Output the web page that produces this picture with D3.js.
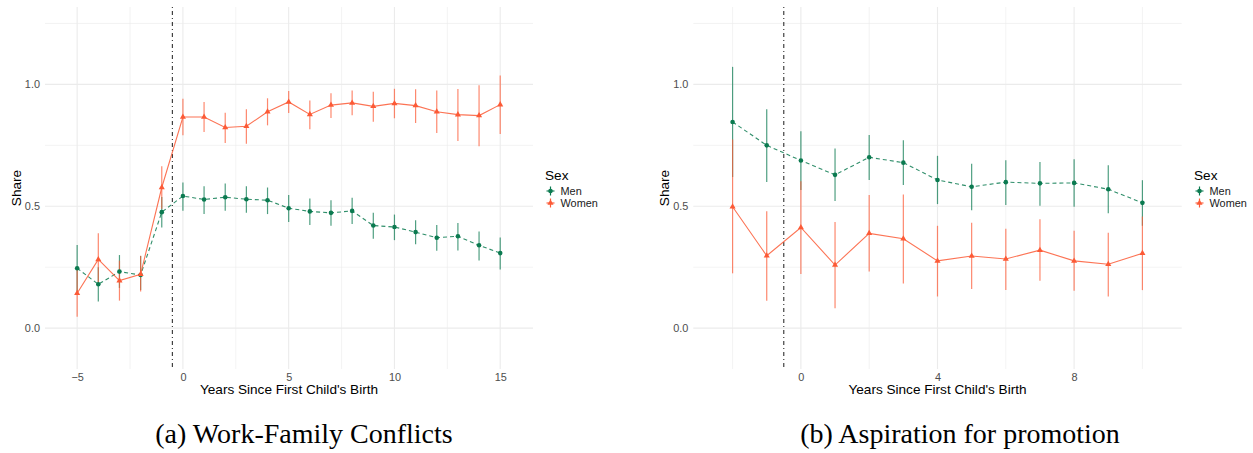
<!DOCTYPE html>
<html>
<head>
<meta charset="utf-8">
<script src="https://cdn.jsdelivr.net/npm/d3@7"></script>
<style>
  html, body { margin: 0; padding: 0; background: #fff; }
  svg { display: block; }
</style>
</head>
<body>
<svg id="chart" width="1253" height="453" style="font-family: 'Liberation Sans', Arial, sans-serif;"></svg>
<script>
// ---------- Data ----------
const seriesNames = ["Men", "Women"];

// Panel (a) Work-Family Conflicts
const yearsA = [-5,-4,-3,-2,-1,0,1,2,3,4,5,6,7,8,9,10,11,12,13,14,15];
const menA    = [0.246,0.180,0.232,0.218,0.476,0.542,0.528,0.537,0.529,0.525,0.492,0.479,0.473,0.481,0.421,0.415,0.394,0.371,0.377,0.340,0.308];
const menALo  = [0.150,0.109,0.165,0.157,0.413,0.482,0.468,0.482,0.473,0.468,0.436,0.423,0.420,0.427,0.367,0.361,0.344,0.318,0.319,0.278,0.241];
const menAHi  = [0.341,0.250,0.300,0.296,0.538,0.598,0.582,0.593,0.582,0.577,0.546,0.532,0.525,0.535,0.473,0.466,0.443,0.423,0.431,0.397,0.372];
const womenA   = [0.143,0.282,0.195,0.221,0.577,0.866,0.866,0.823,0.828,0.888,0.928,0.877,0.915,0.924,0.910,0.922,0.913,0.888,0.876,0.872,0.917];
const womenALo = [0.047,0.175,0.113,0.150,0.490,0.791,0.805,0.760,0.757,0.832,0.883,0.816,0.862,0.873,0.847,0.861,0.842,0.801,0.768,0.746,0.797];
const womenAHi = [0.240,0.389,0.277,0.297,0.664,0.941,0.928,0.884,0.898,0.943,0.973,0.934,0.964,0.975,0.970,0.982,0.980,0.975,0.981,0.996,1.036];

// Panel (b) Aspiration for promotion
const yearsB = [-2,-1,0,1,2,3,4,5,6,7,8,9,10];
const menB    = [0.846,0.750,0.688,0.629,0.701,0.679,0.608,0.580,0.599,0.594,0.596,0.570,0.514];
const menBLo  = [0.620,0.600,0.567,0.522,0.608,0.587,0.509,0.484,0.505,0.502,0.498,0.471,0.420];
const menBHi  = [1.072,0.898,0.808,0.737,0.792,0.771,0.707,0.674,0.689,0.682,0.693,0.668,0.607];
const womenB   = [0.498,0.297,0.413,0.259,0.389,0.367,0.276,0.296,0.284,0.320,0.276,0.262,0.307];
const womenBLo = [0.225,0.112,0.222,0.082,0.232,0.183,0.130,0.161,0.157,0.195,0.154,0.130,0.156];
const womenBHi = [0.774,0.480,0.603,0.436,0.546,0.548,0.420,0.432,0.408,0.447,0.400,0.391,0.458];

// Tick values
const xMajorA = [-5,0,5,10,15];
const xMinorA = [-2.5,2.5,7.5,12.5];
const xMajorB = [0,4,8];
const xMinorB = [-2,2,6,10];
const yMajor = [0,0.5,1.0];
const yMinor = [0.25,0.75,1.25];
const eventLine = -0.5;

const captions = ["(a) Work-Family Conflicts", "(b) Aspiration for promotion"];
const xTitle = "Years Since First Child's Birth";
const yTitle = "Share";
const legendTitle = "Sex";

// ---------- Style ----------
const colors = { Men: "#0b7a50", Women: "#fc5a36" };
const SANS = "'Liberation Sans', Arial, sans-serif";
const SERIF = "'Liberation Serif', 'Times New Roman', serif";
const svg = d3.select("#chart");

function panel(cfg) {
  const g = svg.append("g");
  const x = d3.scaleLinear().domain(cfg.xDomain).range([cfg.left, cfg.right]);
  const y = d3.scaleLinear().domain([-0.1675, 1.3175]).range([369, 7]);

  // minor grid
  g.append("g").selectAll("line").data(yMinor).join("line")
    .attr("x1", cfg.left).attr("x2", cfg.right)
    .attr("y1", d => y(d)).attr("y2", d => y(d))
    .attr("stroke", "#ebebeb").attr("stroke-width", 0.6);
  g.append("g").selectAll("line").data(cfg.xMinor).join("line")
    .attr("x1", d => x(d)).attr("x2", d => x(d))
    .attr("y1", 7).attr("y2", 369)
    .attr("stroke", "#ebebeb").attr("stroke-width", 0.6);
  // major grid
  g.append("g").selectAll("line").data(yMajor).join("line")
    .attr("x1", cfg.left).attr("x2", cfg.right)
    .attr("y1", d => y(d)).attr("y2", d => y(d))
    .attr("stroke", "#ebebeb").attr("stroke-width", 1.1);
  g.append("g").selectAll("line").data(cfg.xMajor).join("line")
    .attr("x1", d => x(d)).attr("x2", d => x(d))
    .attr("y1", 7).attr("y2", 369)
    .attr("stroke", "#ebebeb").attr("stroke-width", 1.1);

  // axes (labels only)
  const ax = g.append("g").attr("transform", "translate(0,369)")
    .call(d3.axisBottom(x).tickValues(cfg.xMajor).tickSize(0).tickPadding(4).tickFormat(d3.format("d")));
  ax.select(".domain").remove();
  ax.selectAll("text").attr("fill", "#4d4d4d").style("font-size", "10.9px").style("font-family", SANS);

  const ay = g.append("g").attr("transform", `translate(${cfg.left},0)`)
    .call(d3.axisLeft(y).tickValues(yMajor).tickSize(0).tickPadding(5).tickFormat(d3.format(".1f")));
  ay.select(".domain").remove();
  ay.selectAll("text").attr("fill", "#4d4d4d").style("font-size", "10.9px").style("font-family", SANS);

  // axis titles
  g.append("text").attr("x", (cfg.left + cfg.right) / 2).attr("y", 393.5)
    .attr("text-anchor", "middle").style("font-size", "13.6px").style("font-family", SANS)
    .attr("fill", "#000").text(xTitle);
  g.append("text").attr("transform", `translate(${cfg.left - 24.5},188) rotate(-90)`)
    .attr("text-anchor", "middle").style("font-size", "13.6px").style("font-family", SANS)
    .attr("fill", "#000").text(yTitle);

  // event line
  g.append("line").attr("x1", x(eventLine)).attr("x2", x(eventLine))
    .attr("y1", 7).attr("y2", 369)
    .attr("stroke", "#000").attr("stroke-width", 0.9)
    .attr("stroke-dasharray", "1,3,4,3");

  const series = [
    { name: "Men", v: cfg.men, lo: cfg.menLo, hi: cfg.menHi, dash: "4,3" },
    { name: "Women", v: cfg.women, lo: cfg.womenLo, hi: cfg.womenHi, dash: null }
  ];

  // error bars
  series.forEach(s => {
    g.append("g").selectAll("line").data(cfg.years).join("line")
      .attr("x1", d => x(d)).attr("x2", d => x(d))
      .attr("y1", (d, i) => y(s.lo[i])).attr("y2", (d, i) => y(s.hi[i]))
      .attr("stroke", colors[s.name]).attr("stroke-width", 1.2)
      .attr("stroke-opacity", 0.72);
  });
  // lines
  series.forEach(s => {
    const line = d3.line().x(d => x(d[0])).y(d => y(d[1]));
    g.append("path").datum(cfg.years.map((d, i) => [d, s.v[i]]))
      .attr("d", line).attr("fill", "none")
      .attr("stroke", colors[s.name]).attr("stroke-width", 1.1)
      .attr("stroke-opacity", 0.85)
      .attr("stroke-dasharray", s.dash);
  });
  // points
  g.append("g").selectAll("circle").data(cfg.years).join("circle")
    .attr("cx", d => x(d)).attr("cy", (d, i) => y(cfg.men[i]))
    .attr("r", 2.3).attr("fill", colors.Men);
  const tri = d3.symbol().type(d3.symbolTriangle).size(16);
  g.append("g").selectAll("path").data(cfg.years).join("path")
    .attr("transform", (d, i) => `translate(${x(d)},${y(cfg.women[i])})`)
    .attr("d", tri).attr("fill", colors.Women);

  // legend
  const lg = g.append("g").attr("transform", `translate(${cfg.legendX},0)`);
  lg.append("text").attr("x", 0).attr("y", 180).style("font-size", "13.6px").style("font-family", SANS)
    .attr("fill", "#000").text(legendTitle);
  seriesNames.forEach((n, i) => {
    const cy = 191 + i * 12;
    lg.append("line").attr("x1", 1.5).attr("x2", 9.5).attr("y1", cy).attr("y2", cy)
      .attr("stroke", colors[n]).attr("stroke-width", 1.1);
    lg.append("line").attr("x1", 5.5).attr("x2", 5.5).attr("y1", cy - 4.5).attr("y2", cy + 4.5)
      .attr("stroke", colors[n]).attr("stroke-width", 1.2);
    if (n === "Men") {
      lg.append("circle").attr("cx", 5.5).attr("cy", cy).attr("r", 2.3).attr("fill", colors[n]);
    } else {
      lg.append("path").attr("transform", `translate(5.5,${cy})`).attr("d", tri).attr("fill", colors[n]);
    }
    lg.append("text").attr("x", 15.5).attr("y", cy).attr("dy", "0.35em")
      .style("font-size", "10.9px").style("font-family", SANS)
      .attr("fill", "#1a1a1a").text(n);
  });

  // caption
  svg.append("text").attr("x", cfg.capX).attr("y", 443)
    .attr("text-anchor", "middle")
    .style("font-family", SERIF)
    .style("font-size", "28px").attr("fill", "#000").text(cfg.caption);
}

panel({
  xDomain: [-6.52, 16.55], left: 45, right: 533,
  xMajor: xMajorA, xMinor: xMinorA, years: yearsA,
  men: menA, menLo: menALo, menHi: menAHi,
  women: womenA, womenLo: womenALo, womenHi: womenAHi,
  legendX: 545, capX: 304, caption: captions[0]
});
panel({
  xDomain: [-3.15, 11.15], left: 693.3, right: 1181.7,
  xMajor: xMajorB, xMinor: xMinorB, years: yearsB,
  men: menB, menLo: menBLo, menHi: menBHi,
  women: womenB, womenLo: womenBLo, womenHi: womenBHi,
  legendX: 1194, capX: 960, caption: captions[1]
});
</script>
</body>
</html>
